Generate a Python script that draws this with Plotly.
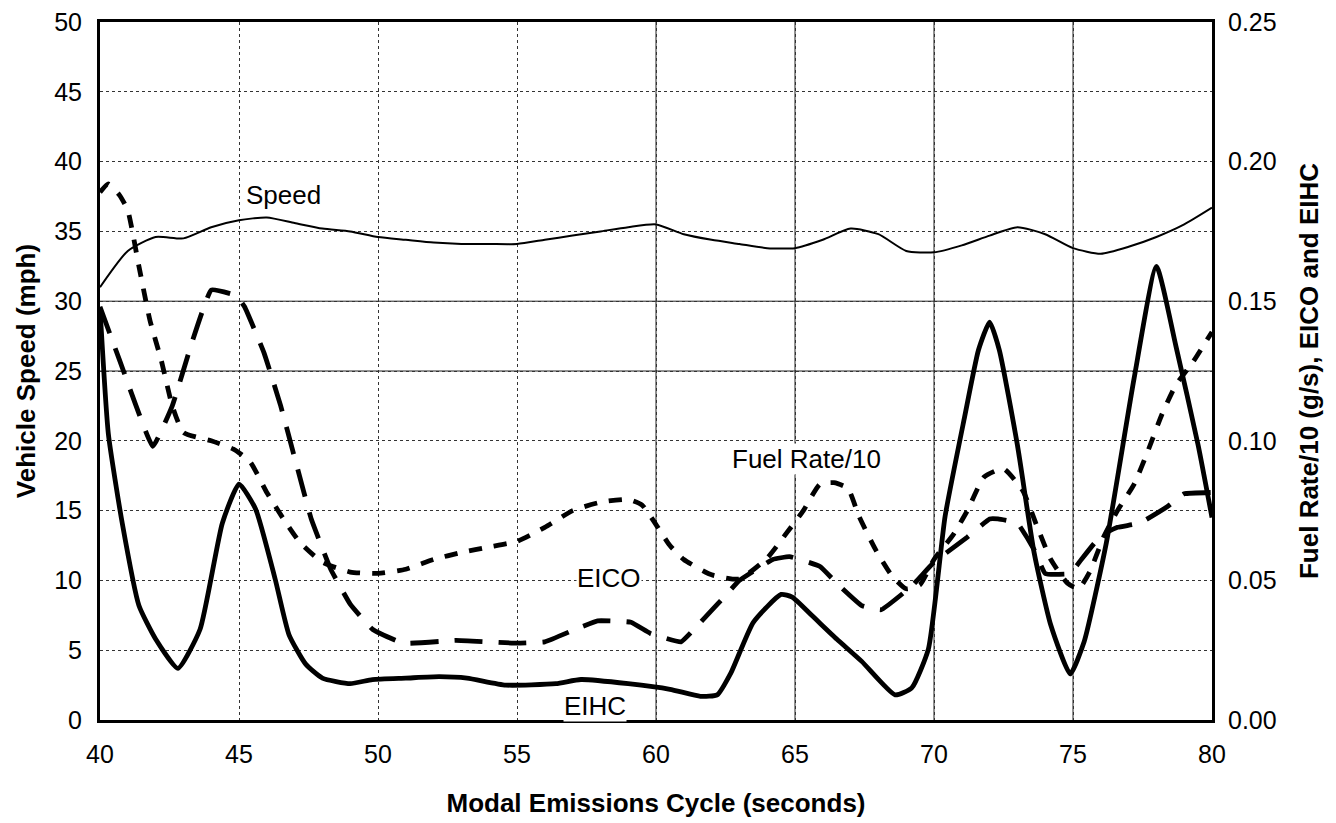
import plotly.graph_objects as go

# Vehicle speed (mph), left axis
speed_t = [40, 41, 42, 43, 44, 45, 46, 47, 48, 49, 50, 51, 52, 53, 54, 55, 56, 57, 58, 59,
           60, 61, 62, 63, 64, 65, 66, 67, 68, 69, 70, 71, 72, 73, 74, 75, 76, 77, 78, 79, 80]
speed_mph = [31.0, 33.6, 34.6, 34.5, 35.3, 35.8, 36.0, 35.6, 35.2, 35.0, 34.6, 34.4, 34.2, 34.1,
             34.1, 34.1, 34.4, 34.7, 35.0, 35.3, 35.5, 34.8, 34.4, 34.1, 33.8, 33.8, 34.4, 35.2,
             34.8, 33.6, 33.5, 34.0, 34.7, 35.3, 34.8, 33.8, 33.4, 33.9, 34.6, 35.5, 36.7]

# Fuel rate / 10 (g/s), right axis
fuel_t = [40, 40.3, 40.7, 41, 41.4, 41.8, 42.2, 42.6, 43, 44, 44.8, 45.4, 46, 46.6, 47.2, 48,
          49, 50, 51, 52, 53, 54, 55, 56, 57, 58, 59, 59.5, 60, 60.5, 61, 62, 63, 64, 64.7,
          65.3, 65.9, 66.4, 66.9, 67.3, 67.9, 68.5, 69, 69.5, 70, 70.7, 71.2, 71.8, 72.5, 73.2,
          73.7, 74.2, 74.8, 75.2, 75.6, 76.1, 76.6, 77.2, 77.7, 78.2, 78.7, 79.3, 80]
fuel_gs = [0.189, 0.192, 0.188, 0.1825, 0.1625, 0.143, 0.129, 0.1125, 0.103, 0.100, 0.097,
           0.0925, 0.0815, 0.072, 0.0635, 0.0565, 0.053, 0.0525, 0.054, 0.0575, 0.060, 0.062,
           0.064, 0.069, 0.075, 0.078, 0.079, 0.077, 0.070, 0.0625, 0.0575, 0.052, 0.0505,
           0.058, 0.067, 0.075, 0.0845, 0.085, 0.083, 0.073, 0.061, 0.0515, 0.047, 0.0485,
           0.0575, 0.0665, 0.075, 0.087, 0.090, 0.082, 0.0695, 0.0575, 0.049, 0.047, 0.053,
           0.0655, 0.075, 0.0845, 0.0965, 0.1095, 0.120, 0.128, 0.139]

# EICO, right axis
eico_t = [40, 40.7, 41.9, 42.6, 43.3, 44, 44.9, 45.2, 45.9, 46.5, 47, 47.6, 48.3, 49, 49.8,
          50.9, 52.8, 55, 56, 57.1, 57.9, 59.1, 59.8, 60.9, 61.6, 62.4, 63, 64.2, 64.8, 65.9,
          66.5, 67.4, 68.1, 69.2, 70, 71.2, 72, 72.3, 73, 73.6, 74, 74.9, 75.3, 76, 76.6,
          77.4, 78.4, 79, 80]
eico = [0.148, 0.129, 0.098, 0.1125, 0.135, 0.154, 0.152, 0.148, 0.1315, 0.1125, 0.094,
        0.072, 0.054, 0.0415, 0.0325, 0.0275, 0.0285, 0.0275, 0.028, 0.0325, 0.0355, 0.035,
        0.031, 0.028, 0.035, 0.0435, 0.050, 0.0575, 0.0585, 0.055, 0.049, 0.041, 0.0395,
        0.048, 0.0565, 0.0655, 0.072, 0.072, 0.0705, 0.061, 0.0525, 0.0525, 0.0575, 0.066,
        0.069, 0.0705, 0.0765, 0.081, 0.0815]

# EIHC, right axis
eihc_t = [40, 40.3, 40.8, 41.4, 42.0, 42.8, 43.6, 44.4, 45.0, 45.6, 46.3, 46.8, 47.4, 48.0,
          49.0, 49.8, 51, 52.2, 53.2, 54.6, 56.4, 57.3, 59, 60.5, 61.6, 62.2, 62.7, 63.5,
          64.5, 64.9, 65.6, 66.5, 67.4, 68.6, 69.2, 69.8, 70.4, 71.1, 71.6, 72.0, 72.35, 73.0,
          73.6, 74.2, 74.9, 75.4, 76.2, 77.2, 78.0, 78.7, 79.5, 80]
eihc = [0.1475, 0.1025, 0.0705, 0.041, 0.029, 0.0185, 0.0325, 0.0705, 0.0845, 0.0755, 0.0505,
        0.0305, 0.020, 0.015, 0.013, 0.0145, 0.015, 0.0155, 0.015, 0.0125, 0.013, 0.0145,
        0.013, 0.011, 0.0085, 0.009, 0.017, 0.035, 0.045, 0.044, 0.0375, 0.029, 0.021, 0.009,
        0.0115, 0.0255, 0.073, 0.1085, 0.1325, 0.1425, 0.1325, 0.0985, 0.060, 0.034, 0.0165,
        0.028, 0.0635, 0.1225, 0.1625, 0.134, 0.0985, 0.0725]

x_ticks = [40, 45, 50, 55, 60, 65, 70, 75, 80]
solid_grid_x = [60, 65, 70, 75]
solid_grid_y = [25, 30]

FONT = "Liberation Sans, Arial, Helvetica, sans-serif"
TICK_SIZE = 25
TITLE_SIZE = 26

fig = go.Figure()

fig.add_trace(go.Scatter(x=speed_t, y=speed_mph, mode="lines", name="Speed",
                         line=dict(color="black", width=2, shape="spline", smoothing=0.6)))
fig.add_trace(go.Scatter(x=eihc_t, y=eihc, mode="lines", name="EIHC", yaxis="y2",
                         line=dict(color="black", width=4.8, shape="spline", smoothing=0.5)))
fig.add_trace(go.Scatter(x=eico_t, y=eico, mode="lines", name="EICO", yaxis="y2",
                         line=dict(color="black", width=4.8, dash="28px,16px",
                                   shape="spline", smoothing=0.3)))
fig.add_trace(go.Scatter(x=fuel_t, y=fuel_gs, mode="lines", name="Fuel Rate/10", yaxis="y2",
                         line=dict(color="black", width=4.8, dash="13px,12px",
                                   shape="spline", smoothing=0.5)))

# solid grid lines drawn over the dotted grid
shapes = []
for gx in solid_grid_x:
    shapes.append(dict(type="line", xref="x", yref="paper", x0=gx, x1=gx, y0=0, y1=1,
                       line=dict(color="#222", width=1), layer="below"))
for gy in solid_grid_y:
    shapes.append(dict(type="line", xref="paper", yref="y", x0=0, x1=1, y0=gy, y1=gy,
                       line=dict(color="#222", width=1), layer="below"))

labels = [
    dict(x=46.6, y=37.6, text="Speed"),
    dict(x=65.4, y=18.7, text="Fuel Rate/10"),
    dict(x=58.3, y=10.2, text="EICO"),
    dict(x=57.8, y=1.0, text="EIHC"),
]
annotations = [dict(x=a["x"], y=a["y"], xref="x", yref="y", text=a["text"], showarrow=False,
                    font=dict(family=FONT, size=TITLE_SIZE, color="black"), bgcolor="white",
                    borderpad=0)
               for a in labels]

fig.update_layout(
    width=1336, height=823,
    margin=dict(l=100, r=124, t=22, b=103),
    paper_bgcolor="white", plot_bgcolor="white",
    showlegend=False,
    font=dict(family=FONT, size=TICK_SIZE, color="black"),
    shapes=shapes,
    annotations=annotations,
    xaxis=dict(
        range=[40, 80], tickvals=x_ticks, ticks="", ticklabelstandoff=10,
        showgrid=True, griddash="dot", gridcolor="#333", gridwidth=1,
        showline=True, linecolor="black", linewidth=3, mirror=True,
        tickfont=dict(size=TICK_SIZE), automargin=False,
        title=dict(text="Modal Emissions Cycle (seconds)", standoff=27,
                   font=dict(size=TITLE_SIZE, weight="bold")),
        zeroline=False,
    ),
    yaxis=dict(
        range=[0, 50], dtick=5, ticks="", ticklabelstandoff=10,
        showgrid=True, griddash="dot", gridcolor="#333", gridwidth=1,
        showline=True, linecolor="black", linewidth=3, mirror=True,
        tickfont=dict(size=TICK_SIZE), automargin=False,
        title=dict(text="Vehicle Speed (mph)", standoff=12,
                   font=dict(size=TITLE_SIZE, weight="bold")),
        zeroline=False,
    ),
    yaxis2=dict(
        range=[0, 0.25], dtick=0.05, tickformat=".2f", overlaying="y", side="right",
        ticks="", ticklabelstandoff=15, showgrid=False, showline=False, zeroline=False,
        tickfont=dict(size=TICK_SIZE), automargin=False,
        title=dict(text="Fuel Rate/10 (g/s), EICO and EIHC", standoff=24,
                   font=dict(size=TITLE_SIZE, weight="bold")),
    ),
)

fig.write_html("out.html")
